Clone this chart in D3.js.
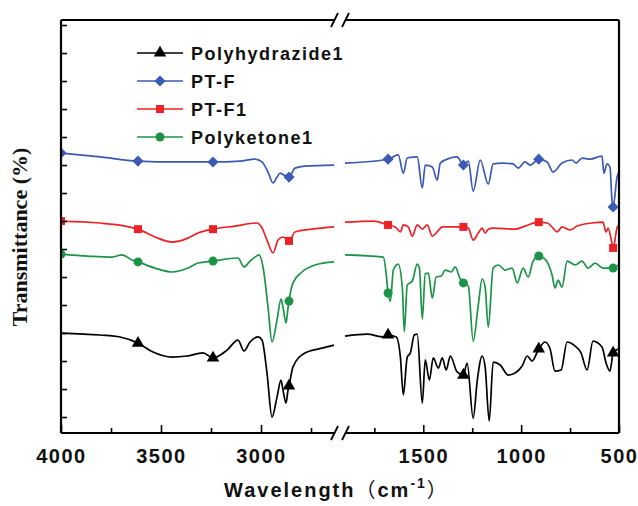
<!DOCTYPE html>
<html>
<head>
<meta charset="utf-8">
<script src="https://cdn.jsdelivr.net/npm/d3@7"></script>
<style>
  body { margin: 0; background: #fff; }
</style>
</head>
<body>
<div id="chart-area"></div>
<script>
// spectra: [wavenumber, transmittance (arb. units)]
const polyhydrazide1 = [
  [4000,4.00],[3805,3.93],[3705,3.86],[3615,3.64],[3540,3.32],[3445,3.14],[3370,3.18],[3290,3.29],[3240,3.11],
  [3170,3.39],[3115,3.75],[3085,3.36],[3055,3.68],[3015,3.86],[2995,3.75],[2970,2.57],[2945,1.00],[2920,1.71],
  [2900,2.32],[2890,1.96],[2875,1.50],[2865,1.96],[2860,2.11],[2840,2.79],[2780,3.29],[2695,3.46],[2635,3.57],
  [1900,3.89],[1786,3.96],[1704,3.86],[1680,3.93],[1638,3.86],[1617,3.14],[1602,1.79],[1582,3.14],[1566,3.29],
  [1546,3.93],[1531,3.96],[1505,1.50],[1490,3.04],[1469,2.32],[1449,3.11],[1423,2.75],[1403,3.11],[1383,2.68],
  [1362,3.18],[1327,2.61],[1295,2.50],[1276,2.93],[1245,0.96],[1224,2.32],[1199,3.18],[1184,2.79],[1163,0.86],
  [1143,2.96],[1107,2.86],[1066,2.50],[1031,2.57],[995,2.82],[969,3.18],[944,3.00],[910,3.43],[878,3.68],
  [852,3.43],[827,2.64],[796,2.68],[765,3.68],[730,3.57],[694,3.29],[663,2.68],[633,3.71],[587,3.50],
  [566,2.93],[546,2.64],[530,3.29],[505,3.43]
];

const ptF = [
  [4000,10.43],[3805,10.29],[3615,10.14],[3430,10.11],[3240,10.11],[3105,10.14],[3030,10.21],[2995,10.11],
  [2965,9.75],[2940,9.36],[2920,9.57],[2905,9.71],[2885,9.64],[2860,9.57],[2830,9.89],[2780,9.96],[2635,10.00],
  [1900,10.07],[1704,10.18],[1680,10.21],[1628,10.36],[1602,9.71],[1582,10.25],[1531,10.29],[1505,9.18],
  [1490,10.00],[1454,9.93],[1429,9.46],[1413,10.07],[1362,10.25],[1327,10.29],[1295,10.00],[1270,10.14],
  [1245,9.07],[1209,10.18],[1168,9.32],[1143,10.04],[1097,10.07],[1041,10.04],[1015,9.89],[980,10.11],
  [954,10.00],[910,10.21],[867,10.11],[837,9.75],[791,10.07],[740,10.18],[719,10.07],[689,10.25],[648,10.21],
  [587,10.32],[577,9.71],[561,10.04],[546,9.93],[536,8.75],[530,8.50],[510,9.57],[500,9.75]
];

const ptF1 = [
  [4000,8.00],[3805,7.93],[3680,7.82],[3615,7.71],[3530,7.43],[3445,7.25],[3365,7.39],[3315,7.57],[3240,7.71],
  [3130,7.82],[3020,7.93],[2995,7.75],[2970,7.32],[2940,6.86],[2915,7.32],[2890,7.43],[2860,7.29],[2830,7.61],
  [2745,7.71],[2635,7.79],
  [1900,7.96],[1755,8.00],[1680,7.86],[1643,7.79],[1617,7.61],[1602,7.86],[1577,7.79],[1556,7.46],[1531,7.86],
  [1505,7.71],[1480,7.86],[1454,7.46],[1429,7.61],[1403,7.79],[1327,7.79],[1295,7.79],[1270,7.75],[1245,7.32],
  [1219,7.57],[1199,7.75],[1184,7.57],[1168,7.71],[1143,7.75],[1031,7.71],[980,7.82],[910,7.96],[867,7.93],
  [837,7.75],[816,7.61],[791,7.79],[750,7.68],[714,7.82],[638,7.93],[582,7.96],[566,7.61],[556,7.75],
  [536,7.21],[530,7.04],[510,7.75],[500,7.86]
];

const polyketone1 = [
  [4000,6.82],[3865,6.75],[3745,6.71],[3695,6.79],[3645,6.61],[3615,6.54],[3530,6.32],[3445,6.18],[3365,6.32],
  [3315,6.50],[3240,6.57],[3115,6.68],[3085,6.36],[3055,6.57],[3030,6.71],[3010,6.79],[2990,6.36],[2965,4.93],
  [2945,3.68],[2920,4.46],[2900,5.21],[2890,4.93],[2875,4.36],[2865,4.89],[2860,5.14],[2840,5.79],[2795,6.18],
  [2730,6.43],[2635,6.54],
  [1900,6.79],[1704,6.71],[1689,6.07],[1680,5.43],[1668,5.14],[1653,6.25],[1628,6.46],[1607,5.61],[1597,4.04],
  [1582,5.71],[1556,5.86],[1531,6.46],[1520,6.32],[1505,4.50],[1490,6.11],[1474,6.14],[1454,5.25],[1434,6.00],
  [1408,6.04],[1388,6.25],[1357,6.18],[1337,6.36],[1311,5.93],[1295,5.79],[1270,5.68],[1245,3.71],[1219,5.00],
  [1199,5.93],[1184,5.64],[1168,4.21],[1143,6.32],[1117,6.43],[1082,6.25],[1046,6.32],[1020,5.79],[990,6.32],
  [964,6.00],[939,6.57],[910,6.75],[878,6.64],[842,6.07],[827,5.61],[811,5.89],[791,5.64],[765,6.57],
  [724,6.43],[689,6.57],[658,6.32],[622,6.50],[582,6.32],[546,6.32],[530,6.32],[505,6.43]
];

// wavenumbers where a symbol sits on each curve
const markerWaves = [4000, 3615, 3240, 2860, 1680, 1295, 910, 530];

const seriesNames = ["Polyhydrazide1", "PT-F", "PT-F1", "Polyketone1"];
const seriesData = [polyhydrazide1, ptF, ptF1, polyketone1];

// axis ticks and the two pieces of the broken x axis
const leftDomain = [4000, 2640];
const rightDomain = [1900, 500];
const leftMajor = [4000, 3500, 3000];
const leftMinor = [3750, 3250, 2750];
const rightMajor = [1500, 1000, 500];
const rightMinor = [1750, 1250, 750];
const yTicks = d3.range(1, 16);

const colors = ["#000000", "#3a5ab4", "#ec2227", "#1b9448"];
const symbols = [d3.symbolTriangle, d3.symbolSquare, d3.symbolSquare, d3.symbolCircle];
const symbolSize = [68, 62, 64, 64];
const symbolRotate = [0, 45, 0, 0];

const W = 638, H = 506;
const plot = {left: 61, right: 619, top: 20, bottom: 433};
const sansFont = "'Liberation Sans', Arial, sans-serif";

const svg = d3.select("#chart-area")
  .append("svg")
    .attr("width", W)
    .attr("height", H);

const xLeft = d3.scaleLinear().domain(leftDomain).range([61, 333]);
const xRight = d3.scaleLinear().domain(rightDomain).range([345, 619]);
const y = d3.scaleLinear().domain([0.43, 15.18]).range([plot.bottom, plot.top]);

const xOf = w => w > 2000 ? xLeft(w) : xRight(w);

svg.append("defs").append("clipPath")
    .attr("id", "clip")
  .append("rect")
    .attr("x", plot.left)
    .attr("y", plot.top)
    .attr("width", plot.right - plot.left)
    .attr("height", plot.bottom - plot.top);

const area = svg.append("g").attr("clip-path", "url(#clip)");

const line = d3.line()
  .x(d => xOf(d[0]))
  .y(d => y(d[1]))
  .curve(d3.curveMonotoneX);

seriesData.forEach((data, i) => {
  const parts = [data.filter(d => d[0] > 2000), data.filter(d => d[0] < 2000)];
  area.selectAll(null)
    .data(parts)
    .join("path")
      .attr("fill", "none")
      .attr("stroke", colors[i])
      .attr("stroke-width", 1.7)
      .attr("stroke-linejoin", "round")
      .attr("d", line);

  const marks = data.filter(d => markerWaves.includes(d[0]) && !(i === 0 && d[0] === 4000));
  area.selectAll(null)
    .data(marks)
    .join("path")
      .attr("fill", colors[i])
      .attr("transform", d => `translate(${xOf(d[0])}, ${y(d[1])}) rotate(${symbolRotate[i]})`)
      .attr("d", d3.symbol().type(symbols[i]).size(symbolSize[i]));
});

// axes
function styleTicks(g) {
  g.select(".domain").remove();
  g.selectAll(".tick line").attr("stroke", "#000").attr("stroke-width", 1.6);
  g.selectAll(".tick text")
    .attr("font-family", sansFont)
    .attr("font-weight", "bold")
    .attr("font-size", 20)
    .attr("letter-spacing", 1.5)
    .attr("fill", "#111");
}

[[xLeft, leftMajor, leftMinor], [xRight, rightMajor, rightMinor]].forEach(([sc, major, minor]) => {
  svg.append("g")
    .attr("transform", `translate(0, ${plot.bottom})`)
    .call(d3.axisBottom(sc).tickValues(major).tickSize(-8).tickPadding(16).tickFormat(d3.format("d")))
    .call(styleTicks);
  svg.append("g")
    .attr("transform", `translate(0, ${plot.bottom})`)
    .call(d3.axisBottom(sc).tickValues(minor).tickSize(-5).tickFormat(""))
    .call(styleTicks);
});

svg.append("g")
  .attr("transform", `translate(${plot.left}, 0)`)
  .call(d3.axisLeft(y).tickValues(yTicks).tickSize(-6).tickFormat(""))
  .call(styleTicks);

// frame with the break
const frame = svg.append("g").attr("stroke", "#000").attr("stroke-width", 2.2).attr("fill", "none");
[plot.top, plot.bottom].forEach(yy => {
  frame.append("line").attr("x1", plot.left).attr("x2", 335).attr("y1", yy).attr("y2", yy);
  frame.append("line").attr("x1", 346).attr("x2", plot.right).attr("y1", yy).attr("y2", yy);
  frame.append("line").attr("x1", 331).attr("x2", 338).attr("y1", yy + 7).attr("y2", yy - 7).attr("stroke-width", 1.8);
  frame.append("line").attr("x1", 342).attr("x2", 349).attr("y1", yy + 7).attr("y2", yy - 7).attr("stroke-width", 1.8);
});
frame.append("line").attr("x1", plot.left).attr("x2", plot.left).attr("y1", plot.top).attr("y2", plot.bottom);
frame.append("line").attr("x1", plot.right).attr("x2", plot.right).attr("y1", plot.top).attr("y2", plot.bottom);

// legend
const legend = svg.append("g");
seriesNames.forEach((name, i) => {
  const ly = 53 + i * 28;
  legend.append("line")
    .attr("x1", 137).attr("x2", 183)
    .attr("y1", ly).attr("y2", ly)
    .attr("stroke", colors[i])
    .attr("stroke-width", 1.7);
  legend.append("path")
    .attr("fill", colors[i])
    .attr("transform", `translate(160, ${ly}) rotate(${symbolRotate[i]})`)
    .attr("d", d3.symbol().type(symbols[i]).size(symbolSize[i]));
  legend.append("text")
    .attr("x", 191)
    .attr("y", ly + 7)
    .attr("font-family", sansFont)
    .attr("font-weight", "bold")
    .attr("font-size", 18)
    .attr("letter-spacing", 1.5)
    .attr("fill", "#111")
    .text(name);
});

// axis titles
const xTitle = svg.append("text")
  .attr("x", 224)
  .attr("y", 497)
  .attr("font-family", sansFont + ", 'Noto Sans CJK SC'")
  .attr("font-weight", "bold")
  .attr("font-size", 20)
  .attr("letter-spacing", 2)
  .attr("fill", "#111");
xTitle.append("tspan").text("Wavelength");
xTitle.append("tspan").attr("font-family", "'Noto Sans CJK SC'").attr("font-weight", "normal").text("（");
xTitle.append("tspan").text("cm");
xTitle.append("tspan").attr("font-size", 14).attr("dy", -9).text("-1");
xTitle.append("tspan").attr("dy", 9).attr("font-family", "'Noto Sans CJK SC'").attr("font-weight", "normal").text("）");

svg.append("text")
  .attr("transform", "translate(27, 237) rotate(-90)")
  .attr("text-anchor", "middle")
  .attr("font-family", "'Liberation Serif', 'Times New Roman', serif")
  .attr("font-weight", "bold")
  .attr("font-size", 22)
  .attr("fill", "#111")
  .text("Transmittance (%)");
</script>
</body>
</html>
